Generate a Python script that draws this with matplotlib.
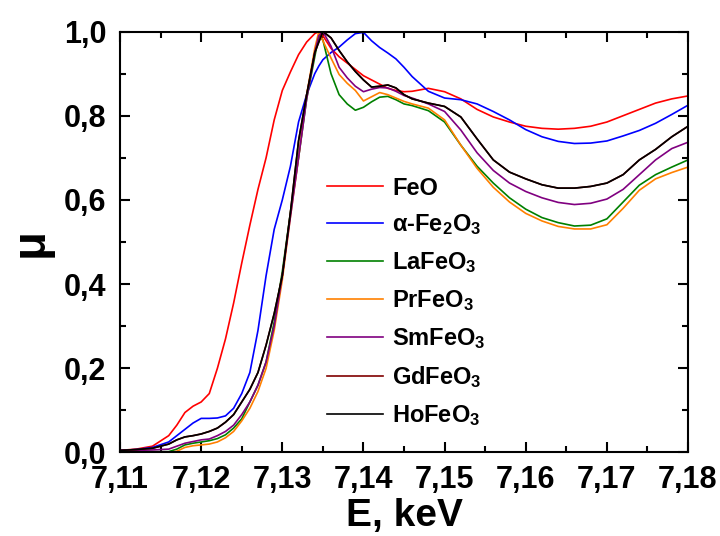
import matplotlib
matplotlib.use("Agg")
import matplotlib.pyplot as plt
from matplotlib.ticker import MultipleLocator, FuncFormatter

plt.rcParams['font.family'] = ['Liberation Sans', 'DejaVu Sans']
plt.rcParams['font.weight'] = 'bold'
plt.rcParams['mathtext.fontset'] = 'custom'
plt.rcParams['mathtext.rm'] = 'Liberation Sans:bold'
plt.rcParams['mathtext.bf'] = 'Liberation Sans:bold'
plt.rcParams['mathtext.default'] = 'bf'

energy = [7.110, 7.112, 7.114, 7.116, 7.117, 7.118, 7.119, 7.120, 7.121, 7.122,
          7.123, 7.124, 7.125, 7.126, 7.127, 7.128, 7.129, 7.130, 7.131, 7.132,
          7.133, 7.134, 7.1345, 7.135, 7.136, 7.137, 7.138, 7.139, 7.140, 7.141,
          7.142, 7.143, 7.144, 7.145, 7.146, 7.148, 7.150, 7.152, 7.154, 7.156,
          7.158, 7.160, 7.162, 7.164, 7.166, 7.168, 7.170, 7.172, 7.174, 7.176,
          7.178, 7.180]

feo = [0.005, 0.008, 0.015, 0.040, 0.065, 0.095, 0.110, 0.120, 0.140, 0.200,
       0.270, 0.355, 0.450, 0.540, 0.625, 0.700, 0.790, 0.860, 0.904, 0.945,
       0.975, 0.995, 1.000, 0.990, 0.960, 0.940, 0.925, 0.910, 0.895, 0.885,
       0.875, 0.865, 0.860, 0.857, 0.858, 0.865, 0.857, 0.840, 0.815, 0.797,
       0.785, 0.775, 0.770, 0.768, 0.770, 0.775, 0.785, 0.800, 0.815, 0.830,
       0.840, 0.847]

fe2o3 = [0.005, 0.007, 0.012, 0.025, 0.040, 0.055, 0.070, 0.081, 0.081, 0.082,
         0.087, 0.105, 0.140, 0.190, 0.290, 0.420, 0.530, 0.600, 0.680, 0.785,
         0.850, 0.900, 0.918, 0.933, 0.950, 0.963, 0.980, 0.995, 0.998, 0.978,
         0.962, 0.949, 0.935, 0.915, 0.893, 0.858, 0.842, 0.838, 0.828, 0.810,
         0.790, 0.767, 0.750, 0.739, 0.734, 0.735, 0.740, 0.752, 0.765, 0.782,
         0.803, 0.825]

lafeo3 = [0.003, 0.002, 0.002, 0.002, 0.008, 0.018, 0.022, 0.025, 0.028, 0.033,
          0.042, 0.058, 0.080, 0.120, 0.160, 0.215, 0.310, 0.430, 0.570, 0.700,
          0.840, 0.940, 0.990, 0.980, 0.900, 0.850, 0.828, 0.813, 0.820, 0.833,
          0.844, 0.846, 0.838, 0.828, 0.824, 0.812, 0.785, 0.730, 0.680, 0.640,
          0.605, 0.578, 0.558, 0.546, 0.538, 0.540, 0.555, 0.595, 0.635, 0.660,
          0.678, 0.695]

prfeo3 = [0.002, 0.000, 0.000, 0.000, 0.003, 0.012, 0.016, 0.018, 0.020, 0.025,
          0.035, 0.050, 0.075, 0.105, 0.145, 0.200, 0.290, 0.410, 0.560, 0.700,
          0.850, 0.960, 1.000, 0.978, 0.937, 0.898, 0.877, 0.860, 0.835, 0.845,
          0.855, 0.850, 0.842, 0.834, 0.828, 0.818, 0.790, 0.730, 0.675, 0.630,
          0.595, 0.568, 0.550, 0.537, 0.531, 0.531, 0.541, 0.580, 0.623, 0.650,
          0.665, 0.678]

smfeo3 = [0.004, 0.005, 0.006, 0.008, 0.015, 0.022, 0.026, 0.030, 0.032, 0.040,
          0.050, 0.065, 0.090, 0.120, 0.160, 0.215, 0.300, 0.420, 0.560, 0.700,
          0.840, 0.950, 0.990, 1.000, 0.965, 0.915, 0.890, 0.870, 0.857, 0.863,
          0.867, 0.866, 0.858, 0.848, 0.842, 0.828, 0.810, 0.766, 0.712, 0.670,
          0.640, 0.620, 0.605, 0.594, 0.589, 0.592, 0.602, 0.625, 0.660, 0.695,
          0.722, 0.737]

gdfeo3 = [0.005, 0.007, 0.010, 0.020, 0.030, 0.037, 0.040, 0.044, 0.050, 0.058,
          0.072, 0.090, 0.120, 0.150, 0.190, 0.255, 0.330, 0.420, 0.570, 0.740,
          0.850, 0.950, 0.975, 1.000, 0.985, 0.955, 0.928, 0.905, 0.885, 0.868,
          0.870, 0.873, 0.866, 0.850, 0.840, 0.830, 0.822, 0.797, 0.745, 0.695,
          0.666, 0.650, 0.636, 0.628, 0.628, 0.632, 0.640, 0.660, 0.695, 0.720,
          0.750, 0.775]

hofeo3 = [0.005, 0.007, 0.010, 0.020, 0.030, 0.037, 0.040, 0.044, 0.050, 0.058,
          0.072, 0.090, 0.120, 0.150, 0.190, 0.255, 0.330, 0.420, 0.570, 0.740,
          0.850, 0.950, 0.975, 1.000, 0.985, 0.955, 0.928, 0.905, 0.885, 0.868,
          0.870, 0.873, 0.866, 0.850, 0.840, 0.830, 0.822, 0.797, 0.745, 0.695,
          0.666, 0.650, 0.636, 0.628, 0.628, 0.632, 0.640, 0.660, 0.695, 0.720,
          0.750, 0.775]

labels = ['FeO', 'α-Fe$_2$O$_3$', 'LaFeO$_3$', 'PrFeO$_3$', 'SmFeO$_3$',
          'GdFeO$_3$', 'HoFeO$_3$']
colors = ['#ff0000', '#0000ff', '#008000', '#ff8000', '#800080', '#800000', '#000000']
series = [feo, fe2o3, lafeo3, prfeo3, smfeo3, gdfeo3, hofeo3]

fig = plt.figure(figsize=(7.2, 5.36), dpi=100)
ax = fig.add_axes([0.1667, 0.1558, 0.7889, 0.7854])

for y, c, lab in zip(series, colors, labels):
    ax.plot(energy, y, color=c, lw=1.2, label=lab)

ax.set_xlim(7.11, 7.18)
ax.set_ylim(0.0, 1.0)
ax.xaxis.set_major_locator(MultipleLocator(0.01))
ax.xaxis.set_minor_locator(MultipleLocator(0.005))
ax.yaxis.set_major_locator(MultipleLocator(0.2))
ax.yaxis.set_minor_locator(MultipleLocator(0.1))
ax.xaxis.set_major_formatter(FuncFormatter(lambda v, p: f"{v:.2f}".replace('.', ',')))
ax.yaxis.set_major_formatter(FuncFormatter(lambda v, p: f"{v:.1f}".replace('.', ',')))

ax.tick_params(which='both', direction='in', top=True, right=True, width=1.5)
ax.tick_params(which='major', length=7, labelsize=22)
ax.tick_params(axis='x', which='major', pad=9)
ax.tick_params(axis='y', which='major', pad=10)
ax.tick_params(which='minor', length=4)
for lbl in ax.get_xticklabels() + ax.get_yticklabels():
    lbl.set_fontweight('bold')
for s in ax.spines.values():
    s.set_linewidth(1.5)

ax.set_xlabel('E, keV', fontsize=28, fontweight='bold', labelpad=2)
ax.set_ylabel('μ', fontsize=34, fontweight='bold', labelpad=8)

leg = ax.legend(loc='upper left', bbox_to_anchor=(0.348, 0.678), frameon=False,
                fontsize=17, handlelength=2.37, labelspacing=0.55,
                handletextpad=0.38, borderaxespad=0)
for t in leg.get_texts():
    t.set_fontweight('bold')

fig.savefig('out.png', dpi=100)
